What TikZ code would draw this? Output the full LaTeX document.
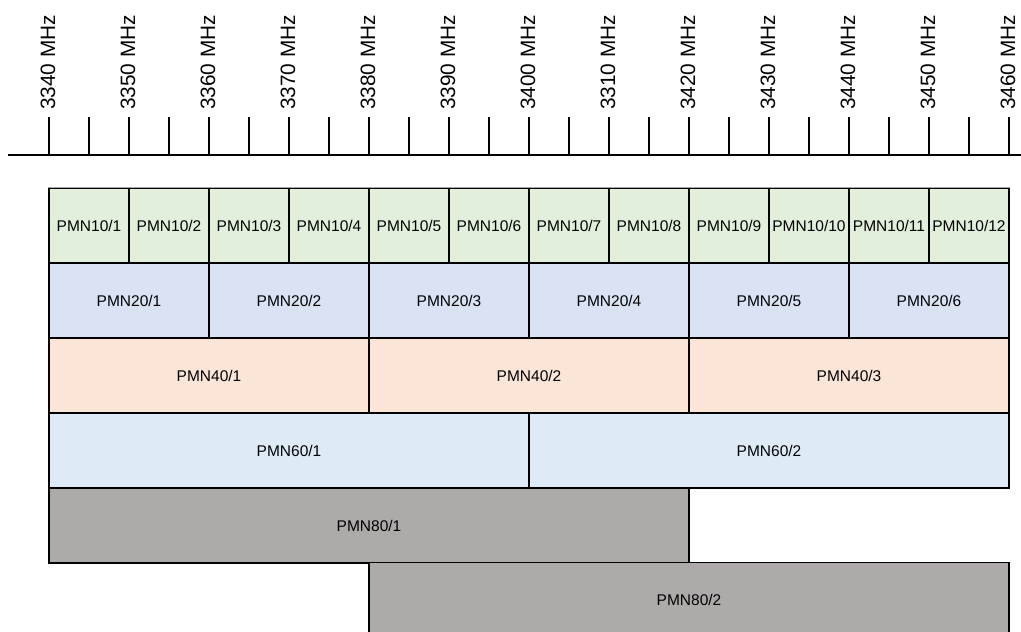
\documentclass[tikz,border=0pt]{standalone}
\usepackage{fontspec}
\setmainfont{Liberation Sans}
\definecolor{pmnten}{HTML}{E2EFDA}
\definecolor{pmntwenty}{HTML}{DAE3F3}
\definecolor{pmnforty}{HTML}{FBE5D6}
\definecolor{pmnsixty}{HTML}{DEEBF7}
\definecolor{pmneighty}{HTML}{AEAAAA}
\begin{document}
\begin{tikzpicture}[x=1pt,y=-1pt,
  chan/.style={draw=black, line width=1.6pt, rectangle, inner sep=0pt,
    minimum height=75pt, font=\fontsize{15.5}{18}\selectfont},
  freqlabel/.style={rotate=90, anchor=base west, inner sep=0pt,
    font=\fontsize{20.8}{24}\selectfont},
  tick/.style={line width=1.6pt}]
\clip (0,0) rectangle (1021,632);
\fill[white] (0,0) rectangle (1021,632);

% frequency axis
\coordinate (axL) at (8,155);
\coordinate (axR) at (1021,155);
\draw[tick] (axL) -- (axR);
\foreach \k in {0,...,24} {
  \draw[tick] ({49+40*\k},117) -- ({49+40*\k},155);
}
\foreach \f [count=\i from 0] in {3340,3350,3360,3370,3380,3390,3400,3310,3420,3430,3440,3450,3460} {
  \node[freqlabel] (f\i) at ({49+80*\i+6},110) {\f\ MHz};
}

% 10 MHz channels
\foreach \i in {1,...,12} {
  \node[chan, fill=pmnten, minimum width=80pt] (c10n\i) at ({89+80*(\i-1)},225.5) {PMN10/\i};
}
% 20 MHz channels
\foreach \i in {1,...,6} {
  \node[chan, fill=pmntwenty, minimum width=160pt] (c20n\i) at ({129+160*(\i-1)},300.5) {PMN20/\i};
}
% 40 MHz channels
\foreach \i in {1,...,3} {
  \node[chan, fill=pmnforty, minimum width=320pt] (c40n\i) at ({209+320*(\i-1)},375.5) {PMN40/\i};
}
% 60 MHz channels
\foreach \i in {1,2} {
  \node[chan, fill=pmnsixty, minimum width=480pt] (c60n\i) at ({289+480*(\i-1)},450.5) {PMN60/\i};
}
% 80 MHz channels
\node[chan, fill=pmneighty, minimum width=640pt] (c80n1) at (369,525.5) {PMN80/1};
\node[chan, fill=pmneighty, minimum width=640pt] (c80n2) at (689,600) {PMN80/2};

% lighter top edge of the first row
\draw[line width=1.2pt, draw=gray!70] (c10n1.north west) -- (c10n12.north east);
\end{tikzpicture}
\end{document}
